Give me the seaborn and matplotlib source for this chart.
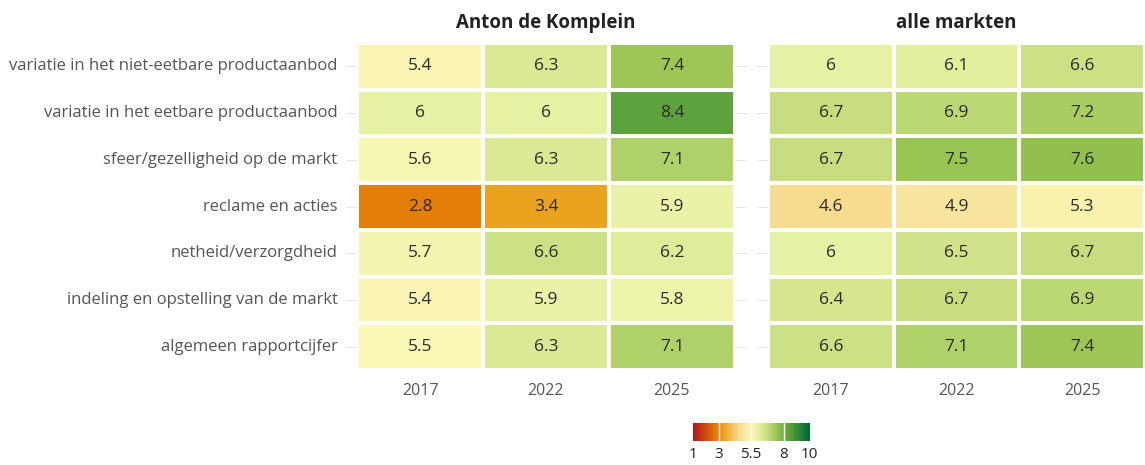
import numpy as np
import pandas as pd
import matplotlib
matplotlib.use("Agg")
import matplotlib.pyplot as plt
from matplotlib.colors import LinearSegmentedColormap
import seaborn as sns

aspects = [
    "variatie in het niet-eetbare productaanbod",
    "variatie in het eetbare productaanbod",
    "sfeer/gezelligheid op de markt",
    "reclame en acties",
    "netheid/verzorgdheid",
    "indeling en opstelling van de markt",
    "algemeen rapportcijfer",
]
years = ["2017", "2022", "2025"]
panels = ["Anton de Komplein", "alle markten"]

anton = [
    [5.4, 6.3, 7.4],
    [6, 6, 8.4],
    [5.6, 6.3, 7.1],
    [2.8, 3.4, 5.9],
    [5.7, 6.6, 6.2],
    [5.4, 5.9, 5.8],
    [5.5, 6.3, 7.1],
]
alle = [
    [6, 6.1, 6.6],
    [6.7, 6.9, 7.2],
    [6.7, 7.5, 7.6],
    [4.6, 4.9, 5.3],
    [6, 6.5, 6.7],
    [6.4, 6.7, 6.9],
    [6.6, 7.1, 7.4],
]

scale_ticks = [1, 3, 5.5, 8, 10]

# colour stops of the grading scale (value, colour)
stop_values = [1, 3, 3.4, 4.6, 5.5, 6, 6.7, 7.5, 8, 10]
stop_colors = ["#b2121b", "#e88a05", "#eba31f", "#f7dc90", "#faf8b8",
               "#e8f1a4", "#c8de80", "#98c452", "#76b140", "#006837"]

sns.set_theme(style="white")
plt.rcParams["font.family"] = ["Open Sans", "DejaVu Sans"]

vmin, vmax = 1, 10
cmap = LinearSegmentedColormap.from_list(
    "rapport",
    [((v - vmin) / (vmax - vmin), c) for v, c in zip(stop_values, stop_colors)],
)

fig = plt.figure(figsize=(11.45, 4.65), dpi=100)
ax_left = fig.add_axes([0.3118, 0.2043, 0.3301, 0.7032])
ax_right = fig.add_axes([0.6707, 0.2043, 0.3293, 0.7032])
cax = fig.add_axes([0.605, 0.0516, 0.102, 0.0387])

for ax, name, vals in zip([ax_left, ax_right], panels, [anton, alle]):
    df = pd.DataFrame(vals, index=aspects, columns=years)
    labels = df.map(lambda v: f"{v:g}")
    sns.heatmap(
        df, ax=ax, cmap=cmap, vmin=vmin, vmax=vmax,
        annot=labels, fmt="", cbar=False,
        linewidths=1.5, linecolor="white",
        annot_kws={"fontsize": 12.5, "color": "#2a2a2a"},
    )
    ax.set_title(name, fontsize=13.5, fontweight="bold", color="#222222", pad=11)
    ax.set_xlabel("")
    ax.set_ylabel("")
    ax.tick_params(axis="x", length=0, labelsize=11.5, labelcolor="#555555", pad=9)
    ax.tick_params(axis="y", length=0, labelsize=12, labelcolor="#555555", pad=14)
    for t in ax.get_xticklabels():
        t.set_rotation(0)
    for i in range(len(aspects)):
        ax.plot([-0.09, 0.0], [i + 0.5, i + 0.5], color="#e6e6e6", lw=0.8,
                clip_on=False, zorder=0)
        ax.plot([3.0, 3.09], [i + 0.5, i + 0.5], color="#e6e6e6", lw=0.8,
                clip_on=False, zorder=0)

ax_right.set_yticklabels([])
ax_right.tick_params(axis="y", left=False)

sm = plt.cm.ScalarMappable(cmap=cmap, norm=plt.Normalize(vmin, vmax))
cb = fig.colorbar(sm, cax=cax, orientation="horizontal", ticks=scale_ticks)
cb.outline.set_visible(False)
cb.ax.set_xticklabels([f"{t:g}" for t in scale_ticks])
cb.ax.tick_params(axis="x", length=0, labelsize=11, labelcolor="#222222", pad=4)
for t in scale_ticks[1:-1]:
    cb.ax.axvline(t, color="white", lw=1)

fig.savefig("out.png", dpi=100, facecolor="white")
